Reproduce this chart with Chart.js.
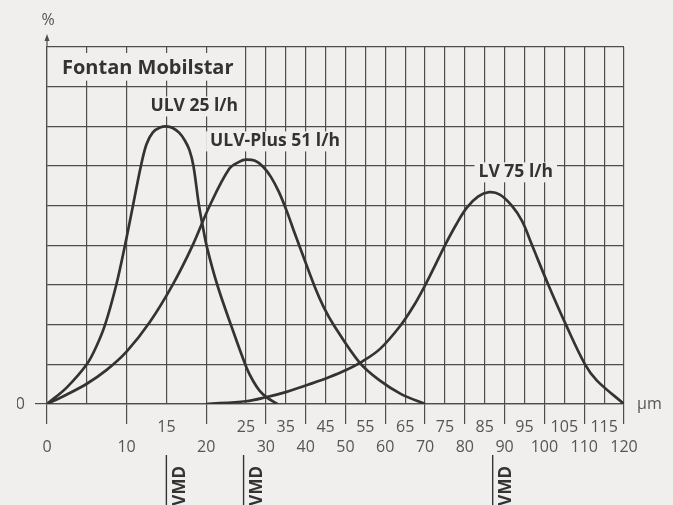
<!DOCTYPE html>
<html>
<head>
<meta charset="utf-8">
<script src="https://cdn.jsdelivr.net/npm/chart.js@4.4.1/dist/chart.umd.min.js"></script>
<style>
  html, body { margin: 0; padding: 0; background: #f0efed; }
  #wrap { width: 673px; height: 505px; }
</style>
</head>
<body>
<div id="wrap"><canvas id="dropChart"></canvas></div>
<script>
// Droplet spectra, x in µm, y in % (one grid row = 1 unit)
const ulvX = [0, 2.5, 5, 6.2, 7.3, 8.7, 9.8, 10.8, 11.8, 12.5, 13.3, 14.2, 15, 15.8, 16.6, 17.3, 17.9, 18.4, 19.1, 19.6, 20.1, 21.4, 23.1, 25.2, 26.8, 28.4, 30.3, 32.9];
const ulvY = [0, 0.42, 1.0, 1.45, 2.0, 3.0, 4.0, 5.0, 6.0, 6.55, 6.85, 6.97, 7.0, 6.96, 6.84, 6.65, 6.4, 6.0, 5.0, 4.45, 3.95, 3.0, 2.0, 0.9, 0.58, 0.34, 0.16, 0];

const plusX = [0, 2.5, 5, 7.5, 10, 12.9, 15.8, 18.3, 20.4, 22.9, 24.2, 25, 27.3, 29.3, 31.3, 33.3, 35.3, 37.3, 39.3, 42.3, 44.5, 47, 53.5, 58.5, 64, 70];
const plusY = [0, 0.24, 0.51, 0.86, 1.32, 2.06, 3.01, 4.0, 4.98, 5.93, 6.11, 6.16, 6.13, 5.98, 5.72, 5.34, 4.85, 4.29, 3.75, 2.95, 2.45, 2.0, 1.05, 0.6, 0.25, 0];

const lvX = [20, 25, 30, 35, 41.6, 46, 50, 54.2, 58.7, 63.7, 67, 70, 72.5, 75, 77.8, 80.5, 83.3, 86.1, 88.8, 91.8, 94.4, 96.9, 101, 105.4, 110.2, 113.2, 120];
const lvY = [0, 0.07, 0.17, 0.3, 0.52, 0.68, 0.85, 1.07, 1.39, 1.96, 2.45, 2.99, 3.49, 4.0, 4.52, 4.95, 5.23, 5.34, 5.28, 5.0, 4.61, 4.0, 3.0, 2.0, 1.0, 0.59, 0];

const seriesNames = ['ULV 25 l/h', 'ULV-Plus 51 l/h', 'LV 75 l/h'];
const vmdValues = [15, 24.7, 87];

const xTicks = [0, 5, 10, 15, 20, 25, 30, 35, 40, 45, 50, 55, 60, 65, 70, 75, 80, 85, 90, 95, 100, 105, 110, 115, 120];
const lowerLabels = [0, 10, 20, 30, 40, 50, 60, 70, 80, 90, 100, 110, 120];
const upperLabels = [15, 25, 35, 45, 55, 65, 75, 85, 95, 105, 115];

const BG = '#f0efed';
const GRID = '#4d4d4d';
const INK = '#333333';
const LABEL = '#555555';

// first 25 µm are drawn at double scale
function warp(v) { return v <= 25 ? v : 25 + (v - 25) / 2; }
function unwarp(u) { return u <= 25 ? u : 25 + (u - 25) * 2; }

class WarpScale extends Chart.LinearScale {
  getPixelForValue(v) {
    if (v === null || v === undefined) return NaN;
    return this.getPixelForDecimal((warp(v) - warp(this.min)) / (warp(this.max) - warp(this.min)));
  }
  getValueForPixel(p) {
    return unwarp(warp(this.min) + this.getDecimalForPixel(p) * (warp(this.max) - warp(this.min)));
  }
}
WarpScale.id = 'warp';
WarpScale.defaults = Chart.LinearScale.defaults;
Chart.register(WarpScale);

function toPoints(xs, ys) {
  return xs.map((x, i) => ({ x: x, y: ys[i] }));
}

function curve(label, xs, ys) {
  return {
    label: label,
    data: toPoints(xs, ys),
    borderColor: INK,
    borderWidth: 2.7,
    pointRadius: 0,
    fill: false,
    tension: 0.35
  };
}

const extras = {
  id: 'extras',
  beforeDraw(chart) {
    const ctx = chart.ctx;
    ctx.save();
    ctx.fillStyle = BG;
    ctx.fillRect(0, 0, chart.width, chart.height);
    ctx.restore();
  },
  afterDatasetsDraw(chart) {
    const { ctx, chartArea: a, scales: { x, y } } = chart;
    ctx.save();

    // title box over the top-left cells
    const boxR = x.getPixelForValue(25);
    const boxB = y.getPixelForValue(8);
    ctx.fillStyle = BG;
    ctx.fillRect(a.left + 1, a.top + 6, boxR - a.left - 2, boxB - a.top - 12);
    ctx.fillStyle = INK;
    ctx.font = 'bold 20px "Open Sans"';
    ctx.textAlign = 'left';
    ctx.textBaseline = 'middle';
    ctx.fillText('Fontan Mobilstar', a.left + 15, (a.top + boxB) / 2 + 1);

    // curve names with a plain background
    const spots = [[18.5, 7.5], [32.3, 6.62], [92.8, 5.84]];
    ctx.font = 'bold 17.5px "Open Sans"';
    ctx.textAlign = 'center';
    seriesNames.forEach((name, i) => {
      const px = x.getPixelForValue(spots[i][0]);
      const py = y.getPixelForValue(spots[i][1]);
      const w = ctx.measureText(name).width;
      ctx.fillStyle = BG;
      ctx.fillRect(px - w / 2 - 4, py - 10, w + 8, 20);
      ctx.fillStyle = INK;
      ctx.fillText(name, px, py);
    });

    // y axis arrow and unit
    const x0 = x.getPixelForValue(0);
    ctx.strokeStyle = GRID;
    ctx.lineWidth = 1.2;
    ctx.beginPath();
    ctx.moveTo(x0, a.top);
    ctx.lineTo(x0, a.top - 8);
    ctx.stroke();
    ctx.fillStyle = GRID;
    ctx.beginPath();
    ctx.moveTo(x0, a.top - 13);
    ctx.lineTo(x0 - 2.5, a.top - 6);
    ctx.lineTo(x0 + 2.5, a.top - 6);
    ctx.closePath();
    ctx.fill();

    ctx.fillStyle = LABEL;
    ctx.font = '16px "Open Sans"';
    ctx.textAlign = 'center';
    ctx.fillText('%', x0 + 1, a.top - 27);
    ctx.textAlign = 'left';
    ctx.fillText('µm', a.right + 13, y.getPixelForValue(0));

    // VMD markers under the axis
    vmdValues.forEach(v => {
      const px = x.getPixelForValue(v);
      ctx.strokeStyle = INK;
      ctx.lineWidth = 1.4;
      ctx.beginPath();
      ctx.moveTo(px, a.bottom + 51);
      ctx.lineTo(px, chart.height);
      ctx.stroke();
      ctx.save();
      ctx.translate(px + 5, a.bottom + 62);
      ctx.rotate(-Math.PI / 2);
      ctx.fillStyle = INK;
      ctx.font = 'bold 17px "Open Sans"';
      ctx.textAlign = 'right';
      ctx.textBaseline = 'top';
      ctx.fillText('VMD', 0, 0);
      ctx.restore();
    });

    ctx.restore();
  }
};

new Chart(document.getElementById('dropChart'), {
  type: 'line',
  data: {
    datasets: [
      curve(seriesNames[0], ulvX, ulvY),
      curve(seriesNames[1], plusX, plusY),
      curve(seriesNames[2], lvX, lvY)
    ]
  },
  options: {
    responsive: true,
    maintainAspectRatio: false,
    animation: false,
    layout: { padding: { top: 47, left: 17, right: 49, bottom: 0 } },
    plugins: {
      legend: { display: false },
      tooltip: { enabled: false }
    },
    scales: {
      x: {
        type: 'warp',
        min: 0,
        max: 120,
        afterBuildTicks: s => { s.ticks = xTicks.map(v => ({ value: v })); },
        afterFit: s => { s.height = 101; },
        grid: {
          color: GRID,
          lineWidth: 1.2,
          tickLength: 20,
          tickColor: c => (c.tick && c.tick.value % 10 === 0) ? GRID : 'transparent'
        },
        border: { color: GRID, width: 1.2 },
        ticks: {
          autoSkip: false,
          maxRotation: 0,
          padding: -7,
          color: LABEL,
          font: { family: '"Open Sans"', size: 16, lineHeight: 1.25 },
          callback: v => {
            if (upperLabels.includes(v)) return [String(v), ''];
            if (lowerLabels.includes(v)) return ['', String(v)];
            return ['', ''];
          }
        }
      },
      y: {
        min: 0,
        max: 9,
        afterFit: s => { s.width = 30; },
        grid: {
          color: GRID,
          lineWidth: 1.2,
          tickLength: 12,
          tickColor: c => (c.tick && c.tick.value === 0) ? GRID : 'transparent'
        },
        border: { color: GRID, width: 1.2 },
        ticks: {
          stepSize: 1,
          padding: 10,
          color: LABEL,
          font: { family: '"Open Sans"', size: 16 },
          callback: v => v === 0 ? '0' : ''
        }
      }
    }
  },
  plugins: [extras]
});
</script>
</body>
</html>
